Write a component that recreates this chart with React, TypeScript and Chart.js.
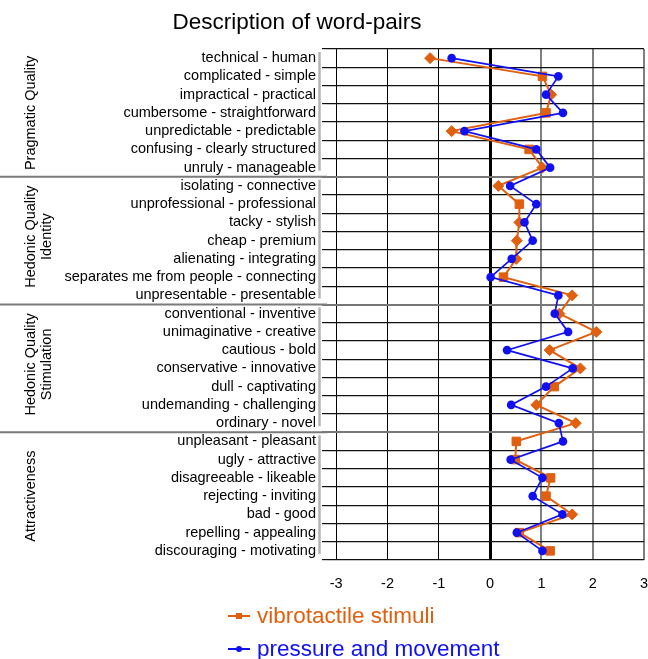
import { useEffect, useRef } from "react";
import { Chart, registerables } from "chart.js";

Chart.register(...registerables);

const chartTitle = "Description of word-pairs";

const wordPairs = [
  "technical - human",
  "complicated - simple",
  "impractical - practical",
  "cumbersome - straightforward",
  "unpredictable - predictable",
  "confusing - clearly structured",
  "unruly - manageable",
  "isolating - connective",
  "unprofessional - professional",
  "tacky - stylish",
  "cheap - premium",
  "alienating - integrating",
  "separates me from people - connecting",
  "unpresentable - presentable",
  "conventional - inventive",
  "unimaginative - creative",
  "cautious - bold",
  "conservative - innovative",
  "dull - captivating",
  "undemanding - challenging",
  "ordinary - novel",
  "unpleasant - pleasant",
  "ugly - attractive",
  "disagreeable - likeable",
  "rejecting - inviting",
  "bad - good",
  "repelling - appealing",
  "discouraging - motivating",
];

const groupNames = [
  ["Pragmatic Quality"],
  ["Hedonic Quality", "Identity"],
  ["Hedonic Quality", "Stimulation"],
  ["Attractiveness"],
];
const groupSizes = [7, 7, 7, 7];

const seriesNames = ["vibrotactile stimuli", "pressure and movement"];

const vibrotactile = [
  -1.17, 1.02, 1.19, 1.09, -0.75, 0.76, 1.02,
  0.16, 0.57, 0.57, 0.52, 0.51, 0.26, 1.6,
  1.35, 2.07, 1.16, 1.76, 1.25, 0.9, 1.67,
  0.51, 0.49, 1.18, 1.09, 1.6, 0.57, 1.17,
];

const pressureMovement = [
  -0.75, 1.33, 1.09, 1.42, -0.5, 0.9, 1.17,
  0.39, 0.9, 0.67, 0.83, 0.42, 0.01, 1.33,
  1.26, 1.52, 0.33, 1.61, 1.09, 0.41, 1.34,
  1.42, 0.4, 1.02, 0.83, 1.41, 0.52, 1.02,
];

// d = diamond, s = square (as drawn in the original)
const vibroMarkers = [
  "d", "s", "d", "s", "d", "s", "d",
  "d", "s", "d", "d", "d", "s", "d",
  "d", "d", "d", "d", "s", "d", "d",
  "s", "s", "s", "s", "d", "s", "s",
];

const xTicks = [-3, -2, -1, 0, 1, 2, 3];
const xMin = -3.18;
const xMax = 3;

const ORANGE = "#E0600F";
const BLUE = "#1010F0";
const FONT = "'Liberation Sans', Arial, Helvetica, sans-serif";

export default function App() {
  const ref = useRef<HTMLCanvasElement | null>(null);

  useEffect(() => {
    if (!ref.current) return;

    const overlay = {
      id: "overlay",
      afterDraw(chart: any) {
        const ctx = chart.ctx as CanvasRenderingContext2D;
        const area = chart.chartArea;
        const y = chart.scales.y;
        ctx.save();

        // title
        ctx.fillStyle = "#000";
        ctx.font = `22.5px ${FONT}`;
        ctx.textAlign = "center";
        ctx.textBaseline = "alphabetic";
        ctx.fillText(chartTitle, 297, 29);

        // group boundaries
        const bounds: number[] = [area.top];
        let idx = 0;
        groupSizes.forEach((n, g) => {
          idx += n;
          if (g < groupSizes.length - 1) {
            bounds.push((y.getPixelForValue(idx - 1) + y.getPixelForValue(idx)) / 2);
          } else {
            bounds.push(area.bottom);
          }
        });

        // separators
        ctx.strokeStyle = "#7a7a7a";
        ctx.lineWidth = 2;
        for (let i = 1; i < bounds.length - 1; i++) {
          ctx.beginPath();
          ctx.moveTo(0, bounds[i]);
          ctx.lineTo(area.left, bounds[i]);
          ctx.stroke();
        }

        // bracket bars
        ctx.strokeStyle = "#b4b4b4";
        ctx.lineWidth = 2.5;
        for (let g = 0; g < groupSizes.length; g++) {
          ctx.beginPath();
          ctx.moveTo(319.5, bounds[g] + 3);
          ctx.lineTo(319.5, bounds[g + 1] - 6);
          ctx.stroke();
        }

        // group labels
        ctx.fillStyle = "#000";
        ctx.font = `14.5px ${FONT}`;
        ctx.textAlign = "center";
        ctx.textBaseline = "middle";
        groupNames.forEach((lines, g) => {
          const cy = (bounds[g] + bounds[g + 1]) / 2 - (lines.length > 1 ? 4 : 0);
          const lh = 16;
          lines.forEach((t, k) => {
            ctx.save();
            ctx.translate(31 + k * lh, cy);
            ctx.rotate(-Math.PI / 2);
            ctx.fillText(t, 0, 0);
            ctx.restore();
          });
        });

        // legend
        const legendItems = [
          { name: seriesNames[0], color: ORANGE, style: "s", y: 616 },
          { name: seriesNames[1], color: BLUE, style: "c", y: 649 },
        ];
        ctx.font = `22.5px ${FONT}`;
        ctx.textAlign = "left";
        ctx.textBaseline = "middle";
        legendItems.forEach((it) => {
          ctx.strokeStyle = it.color;
          ctx.fillStyle = it.color;
          ctx.lineWidth = 2;
          ctx.beginPath();
          ctx.moveTo(228, it.y);
          ctx.lineTo(250, it.y);
          ctx.stroke();
          if (it.style === "s") {
            ctx.fillRect(236, it.y - 3, 6, 6);
          } else {
            ctx.beginPath();
            ctx.arc(239, it.y, 3, 0, Math.PI * 2);
            ctx.fill();
          }
          ctx.fillText(it.name, 257, it.y + 1);
        });

        ctx.restore();
      },
    };

    const chart = new Chart(ref.current, {
      type: "line",
      data: {
        labels: wordPairs,
        datasets: [
          {
            label: seriesNames[0],
            data: vibrotactile,
            borderColor: ORANGE,
            backgroundColor: ORANGE,
            pointBackgroundColor: ORANGE,
            pointBorderColor: ORANGE,
            borderWidth: 2,
            pointBorderWidth: 1,
            pointStyle: vibroMarkers.map((m) => (m === "d" ? "rectRot" : "rect")) as any,
            pointRadius: vibroMarkers.map((m) => (m === "d" ? 5.5 : 6)),
            tension: 0,
            order: 1,
          },
          {
            label: seriesNames[1],
            data: pressureMovement,
            borderColor: BLUE,
            backgroundColor: BLUE,
            pointBackgroundColor: BLUE,
            pointBorderColor: BLUE,
            borderWidth: 1.7,
            pointBorderWidth: 0,
            pointStyle: "circle",
            pointRadius: 4.3,
            tension: 0,
            order: 0,
          },
        ],
      },
      options: {
        indexAxis: "y",
        responsive: false,
        animation: false,
        layout: { autoPadding: false, padding: { top: 49, right: 4, left: 0, bottom: 0 } },
        plugins: {
          legend: { display: false },
          title: { display: false },
          tooltip: { enabled: false },
        },
        scales: {
          x: {
            type: "linear",
            min: xMin,
            max: xMax,
            afterBuildTicks: (scale: any) => {
              scale.ticks = xTicks.map((v) => ({ value: v }));
            },
            afterFit: (scale: any) => {
              scale.height = 99;
              scale.paddingLeft = 0;
              scale.paddingRight = 0;
            },
            border: { display: false },
            grid: {
              drawTicks: true,
              tickLength: 15,
              tickColor: "rgba(0,0,0,0)",
              color: (c: any) => (c.tick && c.tick.value > 0 ? "#808080" : "#000"),
              lineWidth: (c: any) =>
                c.tick && c.tick.value === 0 ? 3 : c.tick && c.tick.value > 0 ? 2 : 1,
            },
            ticks: {
              padding: 0,
              color: "#000",
              font: { family: FONT, size: 14.5 },
              callback: (v: any) => String(v),
            },
          },
          y: {
            type: "category",
            offset: true,
            afterFit: (scale: any) => {
              scale.width = 327;
              scale.paddingTop = 0;
              scale.paddingBottom = 0;
            },
            border: { display: false },
            grid: {
              offset: true,
              drawTicks: true,
              tickLength: 5,
              color: (c: any) =>
                c.index === 7 || c.index === 14 || c.index === 21 ? "#777" : "#111",
              lineWidth: (c: any) =>
                c.index === 7 || c.index === 14 || c.index === 21 ? 2 : 1.2,
            },
            ticks: {
              padding: 6,
              color: "#000",
              autoSkip: false,
              font: { family: FONT, size: 14.5 },
            },
          },
        },
      },
      plugins: [overlay],
    } as any);

    return () => chart.destroy();
  }, []);

  return (
    <div style={{ position: "absolute", left: 0, top: 0, width: 648, height: 659, background: "#fff" }}>
      <canvas ref={ref} width={648} height={659} style={{ width: 648, height: 659 }} />
    </div>
  );
}
